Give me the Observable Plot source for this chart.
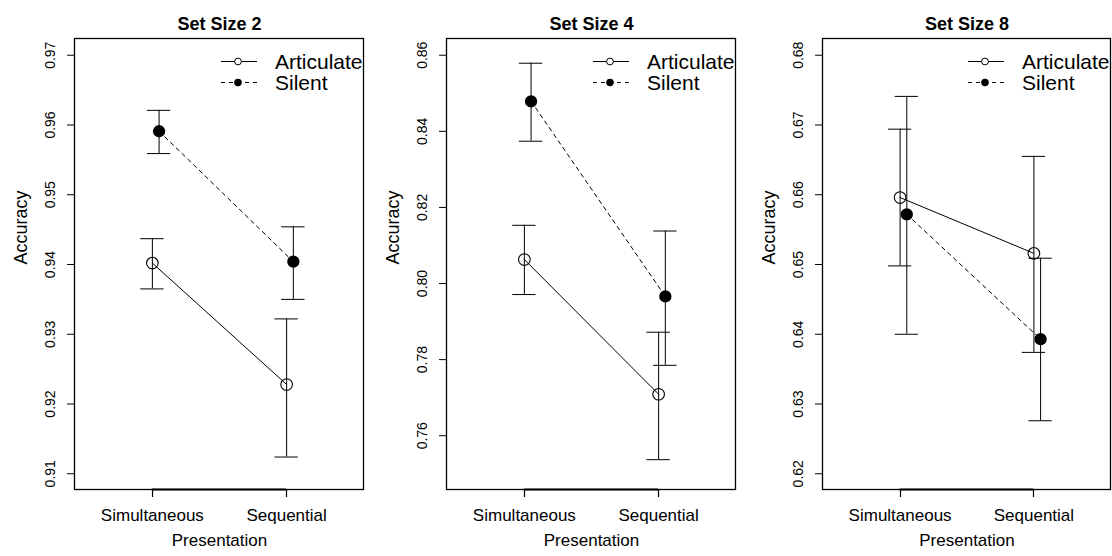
<!DOCTYPE html>
<html>
<head>
<meta charset="utf-8">
<script src="https://cdn.jsdelivr.net/npm/d3@7"></script>
<script src="https://cdn.jsdelivr.net/npm/@observablehq/plot@0.6"></script>
<style>
  body { margin: 0; background: #fff; }
  #chart { position: relative; width: 1112px; height: 556px; overflow: hidden; background: #fff; }
  #chart svg { position: absolute; top: 0; }
</style>
</head>
<body>
<div id="chart"></div>
<script>
// ---- Data ----
const presentation = ["Simultaneous", "Sequential"];
const conditions = ["Articulate", "Silent"];
const setSizes = [2, 4, 8];

// Set size 2
const articulateMean2 = [0.9402, 0.9228];
const articulateLow2  = [0.9365, 0.9124];
const articulateHigh2 = [0.9437, 0.9322];
const silentMean2     = [0.9591, 0.9404];
const silentLow2      = [0.9559, 0.9350];
const silentHigh2     = [0.9621, 0.9454];
const yLim2   = [0.91, 0.97];
const yTicks2 = [0.91, 0.92, 0.93, 0.94, 0.95, 0.96, 0.97];

// Set size 4
const articulateMean4 = [0.8063, 0.7709];
const articulateLow4  = [0.7971, 0.7537];
const articulateHigh4 = [0.8153, 0.7872];
const silentMean4     = [0.8479, 0.7966];
const silentLow4      = [0.8374, 0.7785];
const silentHigh4     = [0.8579, 0.8138];
const yLim4   = [0.75, 0.86];
const yTicks4 = [0.76, 0.78, 0.80, 0.82, 0.84, 0.86];

// Set size 8
const articulateMean8 = [0.6596, 0.6516];
const articulateLow8  = [0.6498, 0.6374];
const articulateHigh8 = [0.6694, 0.6655];
const silentMean8     = [0.6572, 0.6393];
const silentLow8      = [0.6400, 0.6276];
const silentHigh8     = [0.6741, 0.6509];
const yLim8   = [0.62, 0.68];
const yTicks8 = [0.62, 0.63, 0.64, 0.65, 0.66, 0.67, 0.68];

// ---- Layout / style ----
const FONT = "'Liberation Sans', Arial, Helvetica, sans-serif";
const panels = [
  {size: 2, ox: 0,   width: 370, ml: 74, mr: 6, ylim: yLim2, ticks: yTicks2,
   a: [articulateMean2, articulateLow2, articulateHigh2], s: [silentMean2, silentLow2, silentHigh2]},
  {size: 4, ox: 370, width: 371, ml: 76, mr: 5, ylim: yLim4, ticks: yTicks4,
   a: [articulateMean4, articulateLow4, articulateHigh4], s: [silentMean4, silentLow4, silentHigh4]},
  {size: 8, ox: 741, width: 371, ml: 81, mr: 1, ylim: yLim8, ticks: yTicks8,
   a: [articulateMean8, articulateLow8, articulateHigh8], s: [silentMean8, silentLow8, silentHigh8]}
];
const dodge = 0.05;      // silent series drawn slightly to the right
const capHalf = 0.087;   // half width of error-bar caps (x units)
const expand = (lim) => { const d = (lim[1] - lim[0]) * 0.04; return [lim[0] - d, lim[1] + d]; };
const xDomain = expand([0.5, presentation.length + 0.5]);

const chart = document.getElementById("chart");

panels.forEach((p) => {
  const rows = [];
  conditions.forEach((c) => {
    const src = c === "Articulate" ? p.a : p.s;
    presentation.forEach((name, i) => {
      rows.push({
        presentation: name, condition: c,
        pos: i + 1 + (c === "Silent" ? dodge : 0),
        mean: src[0][i], lo: src[1][i], hi: src[2][i]
      });
    });
  });
  const art = rows.filter(d => d.condition === "Articulate");
  const sil = rows.filter(d => d.condition === "Silent");
  const yDomain = expand(p.ylim);

  const legend = (index, scales, values, dims) => {
    const g = d3.create("svg:g").attr("font-family", FONT);
    const right = dims.width - dims.marginRight;
    const top = dims.marginTop;
    conditions.forEach((c, k) => {
      const y = top + 23.5 + k * 21;
      g.append("line")
        .attr("x1", right - 143).attr("x2", right - 107)
        .attr("y1", y).attr("y2", y)
        .attr("stroke", "black").attr("stroke-width", 1)
        .attr("stroke-dasharray", c === "Silent" ? "4,4" : null);
      g.append("circle")
        .attr("cx", right - 126).attr("cy", y).attr("r", 3.4)
        .attr("fill", c === "Silent" ? "black" : "white")
        .attr("stroke", "black").attr("stroke-width", 1);
      g.append("text")
        .attr("x", right - 89).attr("y", y).attr("dy", "0.36em")
        .attr("text-anchor", "start")
        .attr("font-size", 21).attr("fill", "black")
        .text(c);
    });
    return g.node();
  };

  // box, category axis line and category ticks, drawn from the scales
  const box = (index, scales, values, dims) => {
    const g = d3.create("svg:g").attr("fill", "none").attr("stroke", "black");
    const l = dims.marginLeft, r = dims.width - dims.marginRight;
    const t = dims.marginTop, b = dims.height - dims.marginBottom;
    g.append("rect").attr("x", l + 0.5).attr("y", t + 0.5).attr("width", r - l - 1).attr("height", b - t - 1)
      .attr("stroke-width", 1.3);
    const first = scales.x(1), last = scales.x(presentation.length);
    g.append("line").attr("x1", first).attr("x2", last).attr("y1", b - 0.5).attr("y2", b - 0.5).attr("stroke-width", 2.2);
    presentation.forEach((_, i) => {
      const x = Math.round(scales.x(i + 1)) + 0.5;
      g.append("line").attr("x1", x).attr("x2", x).attr("y1", b - 1).attr("y2", b + 7).attr("stroke-width", 1.2);
    });
    return g.node();
  };

  const svg = Plot.plot({
    width: p.width,
    height: 556,
    marginLeft: p.ml,
    marginRight: p.mr,
    marginTop: 38,
    marginBottom: 66,
    style: {fontFamily: FONT, background: "transparent", overflow: "visible", color: "black"},
    x: {type: "linear", domain: xDomain},
    y: {type: "linear", domain: yDomain},
    marks: [
      Plot.axisX({
        ticks: presentation.map((_, i) => i + 1),
        tickFormat: (v) => presentation[v - 1],
        tickSize: 0, tickPadding: 18, fontSize: 17, label: null
      }),
      Plot.axisY({
        ticks: p.ticks, tickFormat: d3.format(".2f"),
        tickSize: 7, tickRotate: -90, tickPadding: 13, fontSize: 14, label: null, stroke: "black"
      }),
      // error bars
      Plot.ruleX(rows, {x: "pos", y1: "lo", y2: "hi", stroke: "black", strokeWidth: 1}),
      Plot.ruleY(rows, {y: "hi", x1: d => d.pos - capHalf, x2: d => d.pos + capHalf, stroke: "black", strokeWidth: 1}),
      Plot.ruleY(rows, {y: "lo", x1: d => d.pos - capHalf, x2: d => d.pos + capHalf, stroke: "black", strokeWidth: 1}),
      // lines
      Plot.line(art, {x: "pos", y: "mean", stroke: "black", strokeWidth: 1}),
      Plot.line(sil, {x: "pos", y: "mean", stroke: "black", strokeWidth: 1, strokeDasharray: "4,4"}),
      // points
      Plot.dot(art, {x: "pos", y: "mean", r: 5.8, stroke: "black", strokeWidth: 1.1, fill: "none"}),
      Plot.dot(sil, {x: "pos", y: "mean", r: 5.4, fill: "black", stroke: "black"}),
      // titles and labels
      Plot.text([`Set Size ${p.size}`], {text: d => d, frameAnchor: "top", dy: -21.5, fontSize: 18, fontWeight: "bold", fill: "black"}),
      Plot.text(["Presentation"], {text: d => d, frameAnchor: "bottom", dy: 55, fontSize: 17, fill: "black"}),
      Plot.text(["Accuracy"], {text: d => d, frameAnchor: "left", dx: -53, rotate: -90, fontSize: 18, fill: "black"}),
      legend,
      box
    ]
  });
  svg.style.left = p.ox + "px";
  chart.appendChild(svg);
});
</script>
</body>
</html>
